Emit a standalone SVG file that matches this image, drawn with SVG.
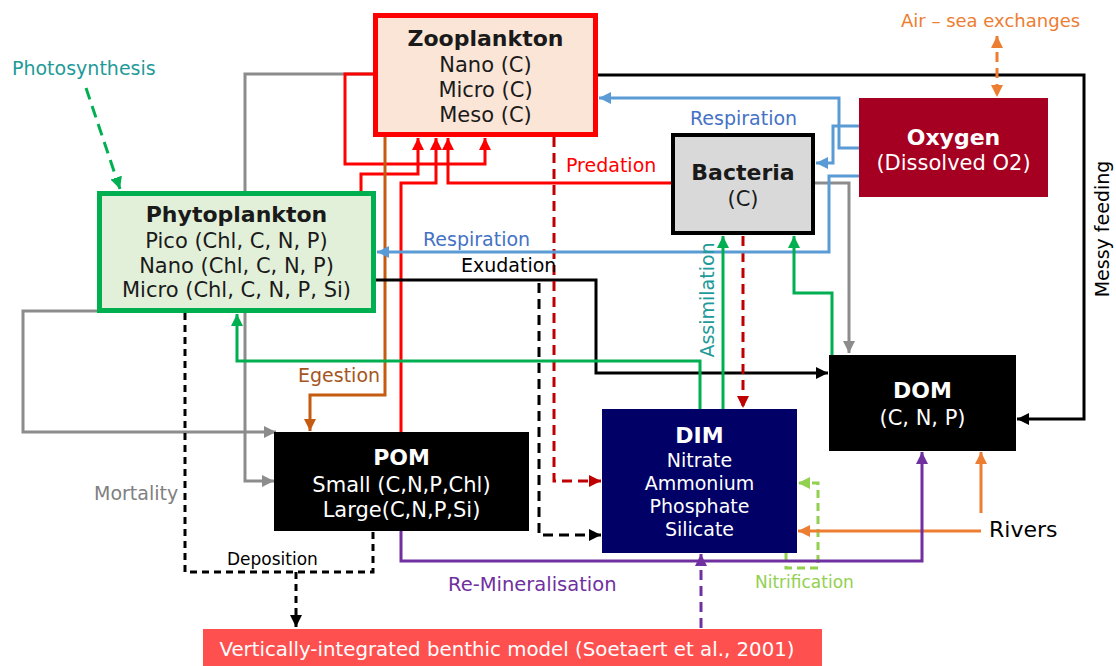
<svg xmlns="http://www.w3.org/2000/svg" width="1116" height="666" viewBox="0 0 1116 666">
<style>
text{font-family:"DejaVu Sans",Verdana,sans-serif}
.t{font-weight:bold;font-size:22px;text-anchor:middle}
.b{font-size:21px;text-anchor:middle}
.d{font-size:19px;text-anchor:middle;fill:#fff}
.w{fill:#fff}
.k{fill:#1a1a1a}
.c{fill:none;stroke-width:3}
.dash{stroke-dasharray:10 6}
.lbl{font-size:19px}
</style>
<defs>
<marker id="aR" viewBox="0 0 12 12" refX="12" refY="6" markerWidth="12" markerHeight="12" markerUnits="userSpaceOnUse" orient="auto"><path d="M0,0L12,6L0,12z" fill="#FF0000"/></marker>
<marker id="aDR" viewBox="0 0 12 12" refX="12" refY="6" markerWidth="12" markerHeight="12" markerUnits="userSpaceOnUse" orient="auto"><path d="M0,0L12,6L0,12z" fill="#C00000"/></marker>
<marker id="aG" viewBox="0 0 12 12" refX="12" refY="6" markerWidth="12" markerHeight="12" markerUnits="userSpaceOnUse" orient="auto"><path d="M0,0L12,6L0,12z" fill="#8C8C8C"/></marker>
<marker id="aBr" viewBox="0 0 12 12" refX="12" refY="6" markerWidth="12" markerHeight="12" markerUnits="userSpaceOnUse" orient="auto"><path d="M0,0L12,6L0,12z" fill="#C55A11"/></marker>
<marker id="aK" viewBox="0 0 12 12" refX="12" refY="6" markerWidth="12" markerHeight="12" markerUnits="userSpaceOnUse" orient="auto"><path d="M0,0L12,6L0,12z" fill="#000"/></marker>
<marker id="aB" viewBox="0 0 12 12" refX="12" refY="6" markerWidth="12" markerHeight="12" markerUnits="userSpaceOnUse" orient="auto"><path d="M0,0L12,6L0,12z" fill="#5B9BD5"/></marker>
<marker id="aGr" viewBox="0 0 12 12" refX="12" refY="6" markerWidth="12" markerHeight="12" markerUnits="userSpaceOnUse" orient="auto"><path d="M0,0L12,6L0,12z" fill="#00B050"/></marker>
<marker id="aLG" viewBox="0 0 12 12" refX="12" refY="6" markerWidth="12" markerHeight="12" markerUnits="userSpaceOnUse" orient="auto"><path d="M0,0L12,6L0,12z" fill="#92D050"/></marker>
<marker id="aO" viewBox="0 0 12 12" refX="12" refY="6" markerWidth="12" markerHeight="12" markerUnits="userSpaceOnUse" orient="auto-start-reverse"><path d="M0,0L12,6L0,12z" fill="#ED7D31"/></marker>
<marker id="aP" viewBox="0 0 12 12" refX="12" refY="6" markerWidth="12" markerHeight="12" markerUnits="userSpaceOnUse" orient="auto"><path d="M0,0L12,6L0,12z" fill="#7030A0"/></marker>
</defs>
<rect width="1116" height="666" fill="#fff"/>
<g id="connectors">
<path class="c" stroke="#8C8C8C" d="M373,74H245V481H274" marker-end="url(#aG)"/>
<path class="c" stroke="#8C8C8C" d="M97,311H23V432H276" marker-end="url(#aG)"/>
<path class="c" stroke="#8C8C8C" d="M815,183H849V353" marker-end="url(#aG)"/>
<path class="c" stroke="#FF0000" d="M373,74H345V164H485V138" marker-end="url(#aR)"/>
<path class="c" stroke="#FF0000" d="M361,191V174H418V138" marker-end="url(#aR)"/>
<path class="c" stroke="#FF0000" d="M401,432V183H436V138" marker-end="url(#aR)"/>
<path class="c" stroke="#FF0000" d="M671,183H448V138" marker-end="url(#aR)"/>
<path class="c" stroke="#C55A11" d="M385,137V395H310V431" marker-end="url(#aBr)"/>
<path class="c" stroke="#000" d="M376,280H596V373H828" marker-end="url(#aK)"/>
<path class="c" stroke="#000" d="M598,75H1084V419H1017" marker-end="url(#aK)"/>
<path class="c dash" stroke="#000" d="M539,283V535H601" marker-end="url(#aK)"/>
<path class="c" stroke="#000" stroke-width="2.5" stroke-dasharray="7 5" d="M185,313V572H373V531"/>
<path class="c" stroke="#000" stroke-width="2.5" stroke-dasharray="7 5" d="M296,572V627" marker-end="url(#aK)"/>
<path class="c dash" stroke="#C00000" d="M554,137V481H601" marker-end="url(#aDR)"/>
<path class="c dash" stroke="#C00000" d="M743,236V408" marker-end="url(#aDR)"/>
<path class="c" stroke="#5B9BD5" d="M859,148H839V98H599" marker-end="url(#aB)"/>
<path class="c" stroke="#5B9BD5" d="M859,126H833V163H816" marker-end="url(#aB)"/>
<path class="c" stroke="#5B9BD5" d="M859,176H829V252H377" marker-end="url(#aB)"/>
<path class="c" stroke="#00B050" d="M700,409V361H237V314" marker-end="url(#aGr)"/>
<path class="c" stroke="#00B050" d="M723,409V236" marker-end="url(#aGr)"/>
<path class="c" stroke="#00B050" d="M832,355V293H794V236" marker-end="url(#aGr)"/>
<path class="c" stroke="#00B050" stroke-dasharray="12 7" d="M86,88L120,189" marker-end="url(#aGr)"/>
<path class="c" stroke="#92D050" stroke-dasharray="8 5" d="M786,553V568H818V483H798" marker-end="url(#aLG)"/>
<path class="c" stroke="#ED7D31" d="M981,513V452" marker-end="url(#aO)"/>
<path class="c" stroke="#ED7D31" d="M981,531H798" marker-end="url(#aO)"/>
<path class="c dash" stroke="#ED7D31" d="M997,36V97" marker-start="url(#aO)" marker-end="url(#aO)"/>
<path class="c" stroke="#7030A0" d="M401,531V561H922V452" marker-end="url(#aP)"/>
<path class="c dash" stroke="#7030A0" d="M701,628V554" marker-end="url(#aP)"/>
</g>
<g id="labels">
<text class="lbl" x="12" y="75" fill="#1E9A98">Photosynthesis</text>
<text x="901" y="27" fill="#ED7D31" font-size="18">Air – sea exchanges</text>
<text class="lbl" x="690" y="125" fill="#4472C4">Respiration</text>
<text class="lbl" x="566" y="172" fill="#FF0000">Predation</text>
<text class="lbl" x="423" y="246" fill="#4472C4">Respiration</text>
<text class="lbl" x="461" y="272" fill="#000">Exudation</text>
<text class="lbl" x="298" y="382" fill="#A5561E">Egestion</text>
<text class="lbl" x="94" y="500" fill="#808080">Mortality</text>
<text x="227" y="565" font-size="17" fill="#000">Deposition</text>
<text x="448" y="591" font-size="19.5" fill="#7030A0">Re-Mineralisation</text>
<text x="755" y="588" font-size="17" fill="#92D050">Nitrification</text>
<text x="989" y="537" font-size="22" fill="#000">Rivers</text>
<text class="lbl" transform="translate(714,300) rotate(-90)" text-anchor="middle" fill="#1E9A98">Assimilation</text>
<text class="lbl" transform="translate(1109,229) rotate(-90)" text-anchor="middle" fill="#000">Messy feeding</text>
</g>
<g id="zooplankton">
<rect x="375.5" y="15.5" width="220" height="119" fill="#FBE5D6" stroke="#FF0000" stroke-width="5"/>
<text class="t k" x="485.5" y="46">Zooplankton</text>
<text class="b k" x="485.5" y="72">Nano (C)</text>
<text class="b k" x="485.5" y="97">Micro (C)</text>
<text class="b k" x="485.5" y="122">Meso (C)</text>
</g>
<g id="phytoplankton">
<rect x="99.5" y="193.5" width="274" height="117" fill="#E2F0D9" stroke="#00B050" stroke-width="5"/>
<text class="t k" x="236.5" y="222">Phytoplankton</text>
<text class="b k" x="236.5" y="248">Pico (Chl, C, N, P)</text>
<text class="b k" x="236.5" y="273">Nano (Chl, C, N, P)</text>
<text class="b k" x="236.5" y="297">Micro (Chl, C, N, P, Si)</text>
</g>
<g id="bacteria">
<rect x="673" y="135" width="140" height="98" fill="#D9D9D9" stroke="#000" stroke-width="4"/>
<text class="t k" x="743" y="180">Bacteria</text>
<text class="b k" x="743" y="206">(C)</text>
</g>
<g id="oxygen">
<rect x="859" y="98" width="189" height="99" fill="#A50021"/>
<text class="t w" x="953.5" y="145">Oxygen</text>
<text class="b w" x="953.5" y="170">(Dissolved O2)</text>
</g>
<g id="dom">
<rect x="829" y="355" width="187" height="96" fill="#000"/>
<text class="t w" x="922.5" y="398">DOM</text>
<text class="b w" x="922.5" y="425">(C, N, P)</text>
</g>
<g id="dim">
<rect x="602" y="409" width="195" height="144" fill="#000066"/>
<text class="t w" x="699.5" y="443">DIM</text>
<text class="d" x="699.5" y="467">Nitrate</text>
<text class="d" x="699.5" y="490">Ammonium</text>
<text class="d" x="699.5" y="513">Phosphate</text>
<text class="d" x="699.5" y="536">Silicate</text>
</g>
<g id="pom">
<rect x="274" y="432" width="255" height="99" fill="#000"/>
<text class="t w" x="401.5" y="465">POM</text>
<text class="b w" x="401.5" y="492">Small (C,N,P,Chl)</text>
<text class="b w" x="401.5" y="517">Large(C,N,P,Si)</text>
</g>
<g id="benthic">
<rect x="203" y="629" width="619" height="37" fill="#FF5050"/>
<text x="507" y="656" font-size="19.8" text-anchor="middle" fill="#fff">Vertically-integrated benthic model (Soetaert et al., 2001)</text>
</g>
</svg>
